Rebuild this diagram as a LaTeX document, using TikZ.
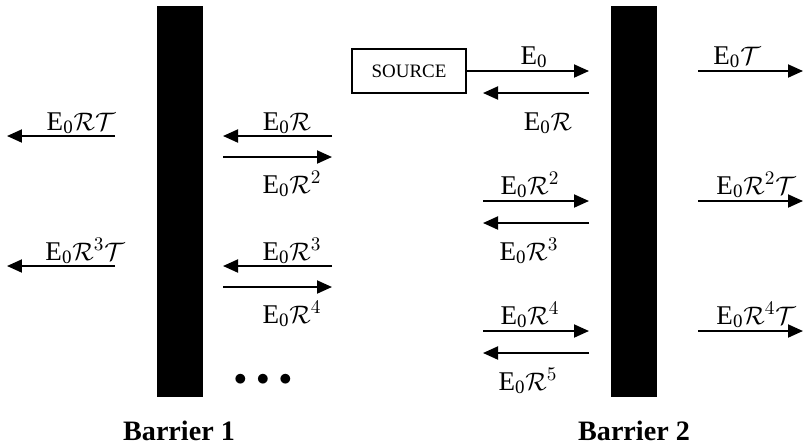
\documentclass[tikz,border=0pt]{standalone}
\usepackage{fontspec}
\setmainfont{Liberation Serif}
\usetikzlibrary{arrows.meta}
\newcommand{\Ez}{E\textsubscript{0}}

\begin{document}
\begin{tikzpicture}[
        x=0.02cm, y=-0.02cm,
        >={Triangle[length=0.3cm, width=0.26cm]},
        barrier/.style={rectangle, fill=black, minimum width=0.92cm, minimum height=7.82cm, inner sep=0pt},
        source_box/.style={rectangle, draw, line width=0.85pt, minimum width=2.28cm, minimum height=0.88cm, inner sep=0pt, font=\fontsize{10.8}{13}\selectfont},
        ray_arrow/.style={->, line width=1.1pt},
        ray_label/.style={anchor=base, font=\fontsize{15.4}{18}\selectfont},
        barrier_label/.style={anchor=base, font=\fontsize{16}{19}\selectfont\bfseries}
    ]
        \useasboundingbox (0,0) rectangle (804,447);

        % Barriers
        \node[barrier] (barrier1) at (180,201.5) {};
        \node[barrier] (barrier2) at (633.5,201.5) {};
        \node[barrier_label] (barrier1_label) at (179,440) {Barrier 1};
        \node[barrier_label] (barrier2_label) at (634,440) {Barrier 2};

        % Source
        \node[source_box] (source) at (409,71) {SOURCE};

        % Transmitted through barrier 1 (left)
        \coordinate (b1_t1_a) at (115,136);
        \coordinate (b1_t1_b) at (7,136);
        \coordinate (b1_t3_a) at (115,266);
        \coordinate (b1_t3_b) at (7,266);
        \draw[ray_arrow] (b1_t1_a) -- (b1_t1_b);
        \draw[ray_arrow] (b1_t3_a) -- (b1_t3_b);
        \node[ray_label] (b1_t1_label) at (81,130) {\Ez$\mathcal{R}\mathcal{T}$};
        \node[ray_label] (b1_t3_label) at (85,260) {\Ez$\mathcal{R}^3\mathcal{T}$};

        % Between the barriers, next to barrier 1
        \coordinate (b1_r1_a) at (332,136);
        \coordinate (b1_r1_b) at (223,136);
        \coordinate (b1_r2_a) at (223,157);
        \coordinate (b1_r2_b) at (332,157);
        \coordinate (b1_r3_a) at (332,266);
        \coordinate (b1_r3_b) at (223,266);
        \coordinate (b1_r4_a) at (223,287);
        \coordinate (b1_r4_b) at (332,287);
        \draw[ray_arrow] (b1_r1_a) -- (b1_r1_b);
        \draw[ray_arrow] (b1_r2_a) -- (b1_r2_b);
        \draw[ray_arrow] (b1_r3_a) -- (b1_r3_b);
        \draw[ray_arrow] (b1_r4_a) -- (b1_r4_b);
        \node[ray_label] (b1_r1_label) at (287,130) {\Ez$\mathcal{R}$};
        \node[ray_label] (b1_r2_label) at (292,193) {\Ez$\mathcal{R}^2$};
        \node[ray_label] (b1_r3_label) at (292,260) {\Ez$\mathcal{R}^3$};
        \node[ray_label] (b1_r4_label) at (292,323) {\Ez$\mathcal{R}^4$};
        \node[ray_label] (dots) at (263,385) {$\bullet\,\bullet\,\bullet$};

        % Between the barriers, next to barrier 2
        \coordinate (b2_r0_b) at (589,71);
        \coordinate (b2_r1_a) at (589,93);
        \coordinate (b2_r1_b) at (483,93);
        \coordinate (b2_r2_a) at (483,201);
        \coordinate (b2_r2_b) at (589,201);
        \coordinate (b2_r3_a) at (589,223);
        \coordinate (b2_r3_b) at (483,223);
        \coordinate (b2_r4_a) at (483,331);
        \coordinate (b2_r4_b) at (589,331);
        \coordinate (b2_r5_a) at (589,353);
        \coordinate (b2_r5_b) at (483,353);
        \draw[ray_arrow] (source) -- (b2_r0_b);
        \draw[ray_arrow] (b2_r1_a) -- (b2_r1_b);
        \draw[ray_arrow] (b2_r2_a) -- (b2_r2_b);
        \draw[ray_arrow] (b2_r3_a) -- (b2_r3_b);
        \draw[ray_arrow] (b2_r4_a) -- (b2_r4_b);
        \draw[ray_arrow] (b2_r5_a) -- (b2_r5_b);
        \node[ray_label] (b2_r0_label) at (534,64) {\Ez};
        \node[ray_label] (b2_r1_label) at (548,130) {\Ez$\mathcal{R}$};
        \node[ray_label] (b2_r2_label) at (530,194) {\Ez$\mathcal{R}^2$};
        \node[ray_label] (b2_r3_label) at (529,260) {\Ez$\mathcal{R}^3$};
        \node[ray_label] (b2_r4_label) at (530,324) {\Ez$\mathcal{R}^4$};
        \node[ray_label] (b2_r5_label) at (528,390) {\Ez$\mathcal{R}^5$};

        % Transmitted through barrier 2 (right)
        \coordinate (b2_t0_a) at (698,71);
        \coordinate (b2_t0_b) at (803,71);
        \coordinate (b2_t2_a) at (698,201);
        \coordinate (b2_t2_b) at (803,201);
        \coordinate (b2_t4_a) at (698,331);
        \coordinate (b2_t4_b) at (803,331);
        \draw[ray_arrow] (b2_t0_a) -- (b2_t0_b);
        \draw[ray_arrow] (b2_t2_a) -- (b2_t2_b);
        \draw[ray_arrow] (b2_t4_a) -- (b2_t4_b);
        \node[ray_label] (b2_t0_label) at (737,64) {\Ez$\mathcal{T}$};
        \node[ray_label] (b2_t2_label) at (756,194) {\Ez$\mathcal{R}^2\mathcal{T}$};
        \node[ray_label] (b2_t4_label) at (756,324) {\Ez$\mathcal{R}^4\mathcal{T}$};

    \end{tikzpicture}
\end{document}
